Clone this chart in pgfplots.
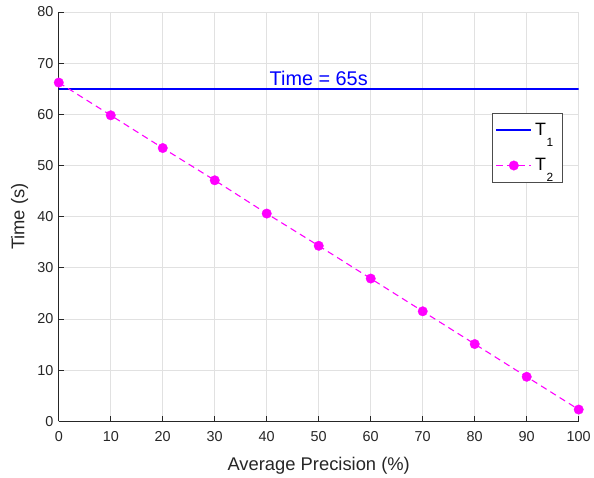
\documentclass[border=0pt]{standalone}
\usepackage{pgfplots}
\pgfplotsset{compat=1.18}
\usetikzlibrary{calc}
\usepackage{fontspec}
\setmainfont{Liberation Sans}
\definecolor{gridgray}{RGB}{225,225,225}
\definecolor{axgray}{RGB}{38,38,38}
\definecolor{mblue}{RGB}{0,0,255}
\definecolor{mmag}{RGB}{255,0,255}
\pgfplotsset{
  legline/.style={legend image code/.code={\draw[##1] (0bp,0bp) -- (35bp,0bp);}},
  leglinemark/.style={legend image code/.code={\draw[##1, mark=none] (0bp,0bp) -- (35bp,0bp); \draw[##1, only marks] plot coordinates {(17.5bp,0bp)};}},
}
\newcommand{\Tsub}[1]{\hbox{T\kern0.5bp\lower11bp\hbox{\fontsize{12}{12}\selectfont #1}\kern4bp}}
\begin{document}
\begin{tikzpicture}[x=1bp,y=1bp]
\begin{axis}[
  scale only axis,
  width=522bp, height=411bp,
  xmin=0, xmax=100, ymin=0, ymax=80,
  xtick={0,10,...,100}, ytick={0,10,...,80},
  axis x line*=bottom, axis y line*=left,
  axis line style={axgray, line width=0.7pt},
  tick style={axgray, line width=0.7pt},
  tick align=inside,
  major tick length=5bp,
  grid=major,
  major grid style={gridgray, line width=0.7pt},
  /pgf/number format/assume math mode=true,
  tick label style={font=\fontsize{14.5}{17}\selectfont, text=axgray},
  xticklabel style={yshift=-7bp},
  yticklabel style={xshift=-2bp},
  xlabel={Average Precision (\%)}, ylabel={Time (s)},
  label style={font=\fontsize{18.5}{21}\selectfont, text=axgray},
  xlabel style={at={(axis description cs:0.5,0)}, anchor=base, yshift=-49bp},
  ylabel style={at={(axis description cs:0,0.5)}, anchor=north, inner sep=0pt, yshift=48bp},
  legend style={at={(0.969,0.754)}, anchor=north east, draw=black!70, line width=0.7pt, font=\fontsize{18}{20}\selectfont,
    cells={anchor=west}, inner xsep=3bp, inner ysep=8bp, row sep=18bp, column sep=1bp},
  legend cell align=left,
]
\addplot[mblue, line width=2bp, legline] coordinates {(0,65) (100,65)};
\addlegendentry{\Tsub{1}}
\addplot[mmag, dash pattern=on 6.5bp off 4.5bp, line width=1.1pt, mark=*, mark size=4.8bp, mark options={solid, fill=mmag, draw=mmag, line width=0.3pt}, leglinemark] coordinates {
(0,66.2) (10,59.8) (20,53.4) (30,47.1) (40,40.6) (50,34.3) (60,27.9) (70,21.5) (80,15.1) (90,8.7) (100,2.3)};
\addlegendentry{\Tsub{2}}
\node[mblue, font=\fontsize{20}{22}\selectfont, anchor=base, inner sep=0pt] at (axis cs:50,65) [yshift=3bp] {Time = 65s};
\end{axis}
\path ($(current axis.south west)+(-59bp,-55bp)$) rectangle ($(current axis.north east)+(14bp,12bp)$);
\end{tikzpicture}
\end{document}
